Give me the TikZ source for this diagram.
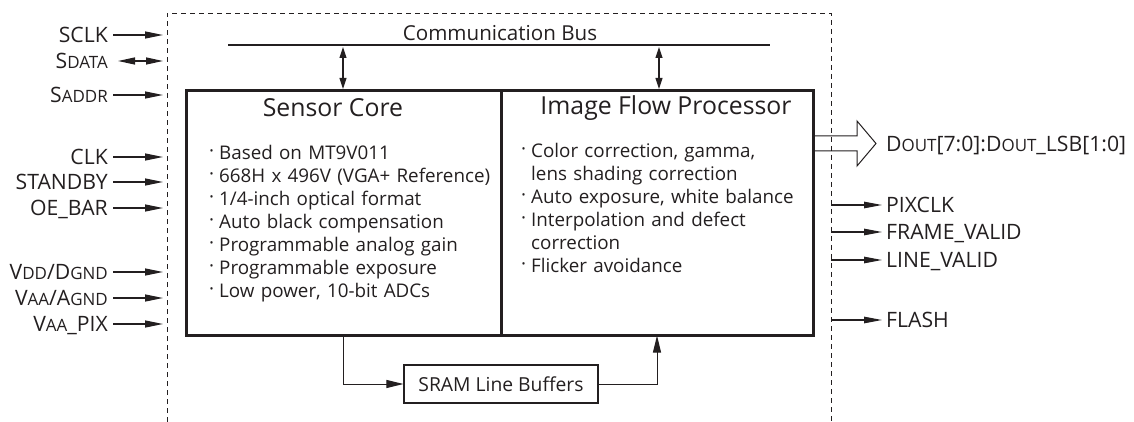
\documentclass[tikz,border=0pt]{standalone}
\usepackage{fontspec}
\setmainfont{Open Sans}
\usetikzlibrary{arrows.meta}
\definecolor{ink}{HTML}{231F20}
\newcommand\smc[1]{\scalebox{0.8}{#1}}
\newcommand\bul{\makebox[10pt][l]{\raisebox{0.2ex}{·}}}
\newcommand\ind{\hspace*{10pt}}
\begin{document}
\begin{tikzpicture}[x=1pt,y=-1pt,color=ink,
  sig/.style={font=\fontsize{21.2}{21.2}\selectfont,inner sep=0pt,text height=15.2pt,text depth=0pt},
  tip/.style={-{Triangle[length=18pt,width=7pt]},line width=1.3pt},
  dtip/.style={{Triangle[length=11pt,width=7pt]}-{Triangle[length=11pt,width=7pt]},line width=1.1pt},
  btip/.style={-{Triangle[length=17pt,width=8pt]},line width=1pt},
  blk/.style={draw,line width=2.6pt,inner sep=0pt},
  ttl/.style={font=\fontsize{24.8}{24.8}\selectfont,inner sep=0pt},
  lst/.style={font=\fontsize{18.8}{23}\selectfont,inner sep=0pt,text width=300pt,align=left,anchor=base west},
  frame/.style={dash pattern=on 5pt off 4pt,line width=0.9pt}]
\useasboundingbox (0,0) rectangle (1134,422);
% dashed chip frame
\coordinate (fTL) at (167,13);
\coordinate (fTR) at (831,13);
\coordinate (fBL) at (167,422);
\coordinate (fBR) at (831,422);
\draw[frame] (fBL) -- (fTL) -- (fTR) -- (fBR);
% main blocks
\node[blk,minimum width=315pt,minimum height=245pt,anchor=north west] (sc) at (185,89) {};
\node[blk,minimum width=312pt,minimum height=245pt,anchor=north west] (ifp) at (500,89) {};
\node[ttl] (sct) at (333,108) {Sensor Core};
\node[ttl] (ifpt) at (666,108) {Image Flow Processor};
\node[lst] (scl) at (209,159.5) {\bul Based on MT9V011\\ \bul 668H x 496V (VGA+ Reference)\\ \bul 1/4-inch optical format\\ \bul Auto black compensation\\ \bul Programmable analog gain\\ \bul Programmable exposure\\ \bul Low power, 10-bit ADCs};
\node[lst] (ifpl) at (521,157.5) {\bul Color correction, gamma,\\ \ind lens shading correction\\ \bul Auto exposure, white balance\\ \bul Interpolation and defect\\ \ind correction\\ \bul Flicker avoidance};
% communication bus
\coordinate (busL) at (228,45);
\coordinate (busR) at (770,45);
\draw[line width=2pt] (busL) -- (busR);
\node[font=\fontsize{20.6}{20.6}\selectfont,inner sep=0pt] (busT) at (500,33) {Communication Bus};
\coordinate (b1) at (343,47);
\coordinate (b2) at (659,47);
\draw[dtip] (b1) -- (b1 |- sc.north);
\draw[dtip] (b2) -- (b2 |- ifp.north);
% SRAM
\node[draw,line width=1.1pt,minimum width=194pt,minimum height=38pt,inner sep=0pt,font=\fontsize{19.3}{19.3}\selectfont] (sram) at (501,384) {SRAM Line Buffers};
\coordinate (s1) at (343,334);
\coordinate (s2) at (657,335.5);
\draw[btip] (s1) |- (sram.west);
\draw[btip] (sram.east) -| (s2);
% left signals
\foreach \n/\t/\y in {sclk/SCLK/35, saddr/{S\smc{ADDR}}/95, clk/CLK/157, stby/STANDBY/182, oe/{OE\_BAR}/208, vdd/{V\smc{DD}/D\smc{GND}}/272, vaa/{V\smc{AA}/A\smc{GND}}/298, vpix/{V\smc{AA}\_PIX}/324}{
  \node[sig,anchor=east] (\n) at (108,\y) {\t};
  \coordinate (\n e) at (163,\y);
  \draw[tip] ([xshift=5pt]\n.east) -- (\n e);
}
\node[sig,anchor=east] (sdata) at (108,61) {S\smc{DATA}};
\coordinate (sdatae) at (163,61);
\draw[{Triangle[length=17pt,width=7pt]}-{Triangle[length=17pt,width=7pt]},line width=1.3pt] ([xshift=10pt]sdata.east) -- (sdatae);
% right signals
\foreach \n/\t/\y in {pix/PIXCLK/205, fv/{FRAME\_VALID}/232, lv/{LINE\_VALID}/260, fl/FLASH/320}{
  \node[sig,anchor=west] (\n) at (886,\y) {\t};
  \coordinate (\n s) at (831,\y);
  \draw[-{Triangle[length=18pt,width=6.5pt]},line width=1.1pt] (\n s) -- ([xshift=-4pt]\n.west);
}
% data bus output (hollow arrow)
\node[sig,anchor=west] (dout) at (886,143.5) {D\smc{OUT}[7:0]:D\smc{OUT}\_LSB[1:0]};
\draw[line width=1pt] (ifp.east |- 0,136) -- (857,136) -- (857,121) -- ([xshift=-10pt]dout.west) -- (857,166) -- (857,151) -- (ifp.east |- 0,151);
\end{tikzpicture}
\end{document}
